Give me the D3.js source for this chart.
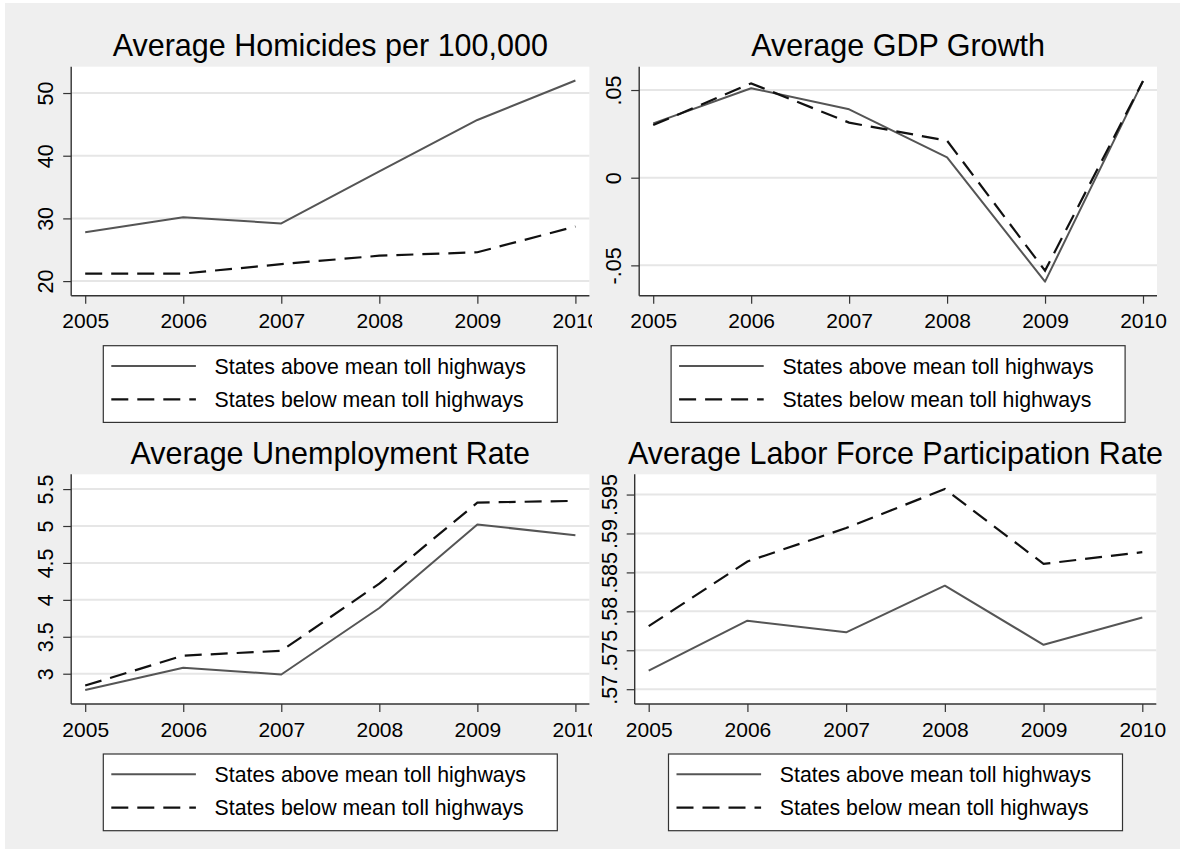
<!DOCTYPE html>
<html>
<head>
<meta charset="utf-8">
<script src="https://cdn.jsdelivr.net/npm/d3@7"></script>
<style>
  html, body { margin: 0; padding: 0; background: #ffffff; }
  svg { display: block; font-family: "Liberation Sans", Arial, sans-serif; }
</style>
</head>
<body>
<svg id="chart" width="1184" height="858"></svg>
<script>
// ---------------- data ----------------
const years = [2005, 2006, 2007, 2008, 2009, 2010];
const seriesLabels = ["States above mean toll highways", "States below mean toll highways"];

const homicideAbove = [27.8, 30.2, 29.2, 37.5, 45.7, 52.0];
const homicideBelow = [21.2, 21.2, 22.7, 24.05, 24.6, 28.7];

const gdpAbove = [0.031, 0.051, 0.039, 0.0116, -0.0593, 0.0551];
const gdpBelow = [0.030, 0.0538, 0.0314, 0.0211, -0.053, 0.0551];

const unempAbove = [2.78, 3.08, 2.99, 3.89, 5.02, 4.875];
const unempBelow = [2.84, 3.245, 3.31, 4.22, 5.317, 5.34];

const lfpAbove = [0.5724, 0.5788, 0.5773, 0.5833, 0.5757, 0.5792];
const lfpBelow = [0.5781, 0.5864, 0.5907, 0.5957, 0.5861, 0.5876];

const titles = ["Average Homicides per 100,000", "Average GDP Growth",
                "Average Unemployment Rate", "Average Labor Force Participation Rate"];

const homicideTicks = [20, 30, 40, 50];
const homicideTickLabels = ["20", "30", "40", "50"];
const gdpTicks = [-0.05, 0, 0.05];
const gdpTickLabels = ["-.05", "0", ".05"];
const unempTicks = [3, 3.5, 4, 4.5, 5, 5.5];
const unempTickLabels = ["3", "3.5", "4", "4.5", "5", "5.5"];
const lfpTicks = [0.57, 0.575, 0.58, 0.585, 0.59, 0.595];
const lfpTickLabels = [".57", ".575", ".58", ".585", ".59", ".595"];
const yearLabels = ["2005", "2006", "2007", "2008", "2009", "2010"];

// ---------------- layout ----------------
const svg = d3.select("#chart");
svg.append("rect").attr("x", 0).attr("y", 0).attr("width", 1184).attr("height", 858).attr("fill", "#ffffff");
svg.append("rect").attr("x", 5).attr("y", 3).attr("width", 1175).attr("height", 846).attr("fill", "#efefef");

const panels = [
  { clipX: 0,   left: 71.2,  right: 589.4, top: 66.7,  bottom: 295.7, domain: [17.67, 54.2],
    title: titles[0], above: homicideAbove, below: homicideBelow, ticks: homicideTicks, tickLabels: homicideTickLabels },
  { clipX: 592, left: 639.2, right: 1157,  top: 66.7,  bottom: 295.7, domain: [-0.0673, 0.0633],
    title: titles[1], above: gdpAbove, below: gdpBelow, ticks: gdpTicks, tickLabels: gdpTickLabels },
  { clipX: 0,   left: 71.2,  right: 589.4, top: 474.3, bottom: 704,   domain: [2.59, 5.70],
    title: titles[2], above: unempAbove, below: unempBelow, ticks: unempTicks, tickLabels: unempTickLabels },
  { clipX: 592, left: 634.7, right: 1156.3, top: 474.3, bottom: 704,  domain: [0.5681, 0.5976],
    title: titles[3], above: lfpAbove, below: lfpBelow, ticks: lfpTicks, tickLabels: lfpTickLabels }
];

const solidColor = "#555555";
const dashColor = "#111111";
const dash = "17,9";

panels.forEach((p, i) => {
  const clipId = "clip" + i;
  svg.append("clipPath").attr("id", clipId)
    .append("rect").attr("x", p.clipX).attr("y", 0).attr("width", 592).attr("height", 858);
  const g = svg.append("g").attr("clip-path", `url(#${clipId})`);

  const x = d3.scaleLinear().domain([2005, 2010]).range([p.left + 14, p.right - 14]);
  const y = d3.scaleLinear().domain(p.domain).range([p.bottom, p.top]);
  const cx = (p.left + p.right) / 2;

  // plot background
  g.append("rect").attr("x", p.left).attr("y", p.top)
    .attr("width", p.right - p.left).attr("height", p.bottom - p.top).attr("fill", "#ffffff");

  // grid lines
  g.selectAll(".grid").data(p.ticks).enter().append("line")
    .attr("x1", p.left).attr("x2", p.right)
    .attr("y1", d => y(d)).attr("y2", d => y(d))
    .attr("stroke", "#e6e6e6").attr("stroke-width", 2);

  // y axis
  const yAxis = d3.axisLeft(y).tickValues(p.ticks).tickSize(8)
    .tickFormat((d, k) => p.tickLabels[k]);
  const ya = g.append("g").attr("transform", `translate(${p.left},0)`).call(yAxis);
  ya.select(".domain").attr("stroke", "#333").attr("stroke-width", 1.4)
    .attr("d", `M0,${p.top}V${p.bottom}`);
  ya.selectAll(".tick line").attr("stroke", "#333").attr("stroke-width", 1.2);
  ya.selectAll(".tick text")
    .attr("x", null).attr("dy", null)
    .attr("transform", "translate(-18,0) rotate(-90)")
    .attr("text-anchor", "middle")
    .attr("font-size", 21.5).attr("font-family", "Liberation Sans, Arial, sans-serif")
    .attr("fill", "#000");

  // x axis
  const xAxis = d3.axisBottom(x).tickValues(years).tickSize(8)
    .tickFormat((d, k) => yearLabels[k]);
  const xa = g.append("g").attr("transform", `translate(0,${p.bottom})`).call(xAxis);
  xa.select(".domain").attr("stroke", "#333").attr("stroke-width", 1.4)
    .attr("d", `M${p.left},0H${p.right}`);
  xa.selectAll(".tick line").attr("stroke", "#333").attr("stroke-width", 1.2);
  xa.selectAll(".tick text")
    .attr("y", 32.5).attr("dy", null)
    .attr("font-size", 21).attr("font-family", "Liberation Sans, Arial, sans-serif")
    .attr("fill", "#000");

  // lines
  const line = d3.line().x((d, k) => x(years[k])).y(d => y(d));
  g.append("path").datum(p.above).attr("d", line)
    .attr("fill", "none").attr("stroke", solidColor).attr("stroke-width", 2)
    .attr("stroke-linejoin", "round");
  g.append("path").datum(p.below).attr("d", line)
    .attr("fill", "none").attr("stroke", dashColor).attr("stroke-width", 2.2)
    .attr("stroke-dasharray", dash);

  // title
  g.append("text").attr("x", cx).attr("y", p.top - 10.7)
    .attr("text-anchor", "middle").attr("font-size", 30.5).attr("fill", "#000")
    .text(p.title);

  // legend
  const lw = 454, lh = 76.7;
  const lx = cx - lw / 2, ly = p.bottom + 50;
  const lg = g.append("g");
  lg.append("rect").attr("x", lx).attr("y", ly).attr("width", lw).attr("height", lh)
    .attr("fill", "#ffffff").attr("stroke", "#333").attr("stroke-width", 1.2);
  const rows = [
    { label: seriesLabels[0], color: solidColor, dash: null, w: 2, dy: 20.3 },
    { label: seriesLabels[1], color: dashColor, dash: dash, w: 2.2, dy: 53.6 }
  ];
  rows.forEach(r => {
    lg.append("line").attr("x1", lx + 8).attr("x2", lx + 92.6)
      .attr("y1", ly + r.dy).attr("y2", ly + r.dy)
      .attr("stroke", r.color).attr("stroke-width", r.w)
      .attr("stroke-dasharray", r.dash);
    lg.append("text").attr("x", lx + 111.3).attr("y", ly + r.dy + 7.5)
      .attr("font-size", 21.3).attr("fill", "#000").text(r.label);
  });
});
</script>
</body>
</html>
